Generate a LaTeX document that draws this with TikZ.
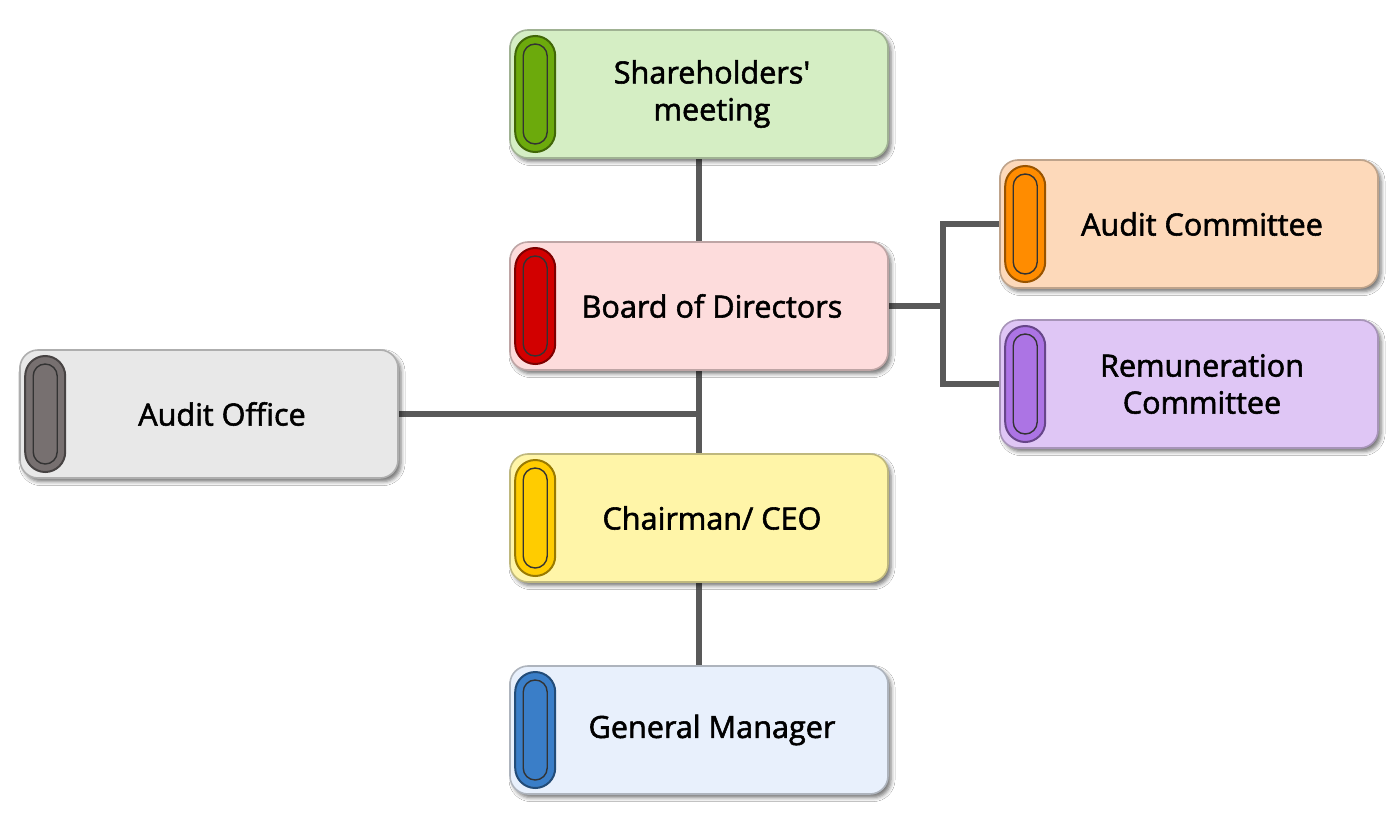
\documentclass[tikz,border=0pt]{standalone}
\usepackage{fontspec}
\setmainfont{Open Sans}
\newfontfamily\orgfont{Open Sans}[FakeBold=1.8]
\usetikzlibrary{shadows.blur,backgrounds}
\definecolor{lnk}{HTML}{595959}
\definecolor{gF}{HTML}{D5EEC4}\definecolor{gP}{HTML}{6CAA0C}
\definecolor{rF}{HTML}{FDDCDC}\definecolor{rP}{HTML}{D20000}
\definecolor{aF}{HTML}{E8E8E8}\definecolor{aP}{HTML}{777070}
\definecolor{yF}{HTML}{FFF5A8}\definecolor{yP}{HTML}{FFCC00}
\definecolor{bF}{HTML}{E8F0FC}\definecolor{bP}{HTML}{3A7EC8}
\definecolor{oF}{HTML}{FDD9BA}\definecolor{oP}{HTML}{FF8C00}
\definecolor{pF}{HTML}{DFC6F5}\definecolor{pP}{HTML}{AC74E4}
\tikzset{
  orgbox/.style={rectangle, rounded corners=9pt, minimum width=189pt, minimum height=64pt,
    line width=0.8pt, blur shadow={shadow xshift=1.5pt, shadow yshift=-1.8pt, shadow blur radius=2pt, shadow opacity=55}},
  pillout/.style={rectangle, rounded corners=10pt, minimum width=20pt, minimum height=58pt, inner sep=0pt, line width=1pt},
  pillin/.style={rectangle, rounded corners=6pt, minimum width=12pt, minimum height=50pt, inner sep=0pt, draw=black!80, line width=0.7pt},
  orgtext/.style={align=center, inner sep=0pt, font=\orgfont\fontsize{15.3pt}{18.5pt}\selectfont, text=black},
  link/.style={draw=lnk, line width=3pt}
}
\newcommand\orgunit[6]{%
  \node[orgbox, fill=#4, draw=#4!75!black] (#1) at (#2,#3) {};
  \node[pillout, fill=#5, draw=#5!60!black] (#1-pill) at ([xshift=13pt]#1.west) {};
  \node[pillin, fill=#5] (#1-pin) at (#1-pill.center) {};
  \node[orgtext] (#1-txt) at ([xshift=6.5pt]#1.center) {#6};
}
\begin{document}
\begin{tikzpicture}[x=0.5pt,y=-0.5pt]
\useasboundingbox (0,0) rectangle (1400,824);
\orgunit{sh}{699}{94}{gF}{gP}{Shareholders\char39\\meeting}
\orgunit{bd}{699}{306}{rF}{rP}{Board of Directors}
\orgunit{ch}{699}{518}{yF}{yP}{Chairman/ CEO}
\orgunit{gm}{699}{730}{bF}{bP}{General Manager}
\orgunit{ao}{209}{414}{aF}{aP}{Audit Office}
\orgunit{ac}{1189}{224}{oF}{oP}{Audit Committee}
\orgunit{rc}{1189}{384}{pF}{pP}{Remuneration\\Committee}
\begin{pgfonlayer}{background}
\fill[white] (0,0) rectangle (1400,824);
\coordinate (j1) at (bd.south |- ao.east);
\coordinate (j2) at ([xshift=27pt]bd.east);
\draw[link] (sh.south) -- (bd.north);
\draw[link] (bd.south) -- (ch.north);
\draw[link] (ch.south) -- (gm.north);
\draw[link] (ao.east) -- (j1);
\draw[link] (bd.east) -- (j2);
\draw[link] (ac.west) -| (j2) |- (rc.west);
\end{pgfonlayer}
\end{tikzpicture}
\end{document}
